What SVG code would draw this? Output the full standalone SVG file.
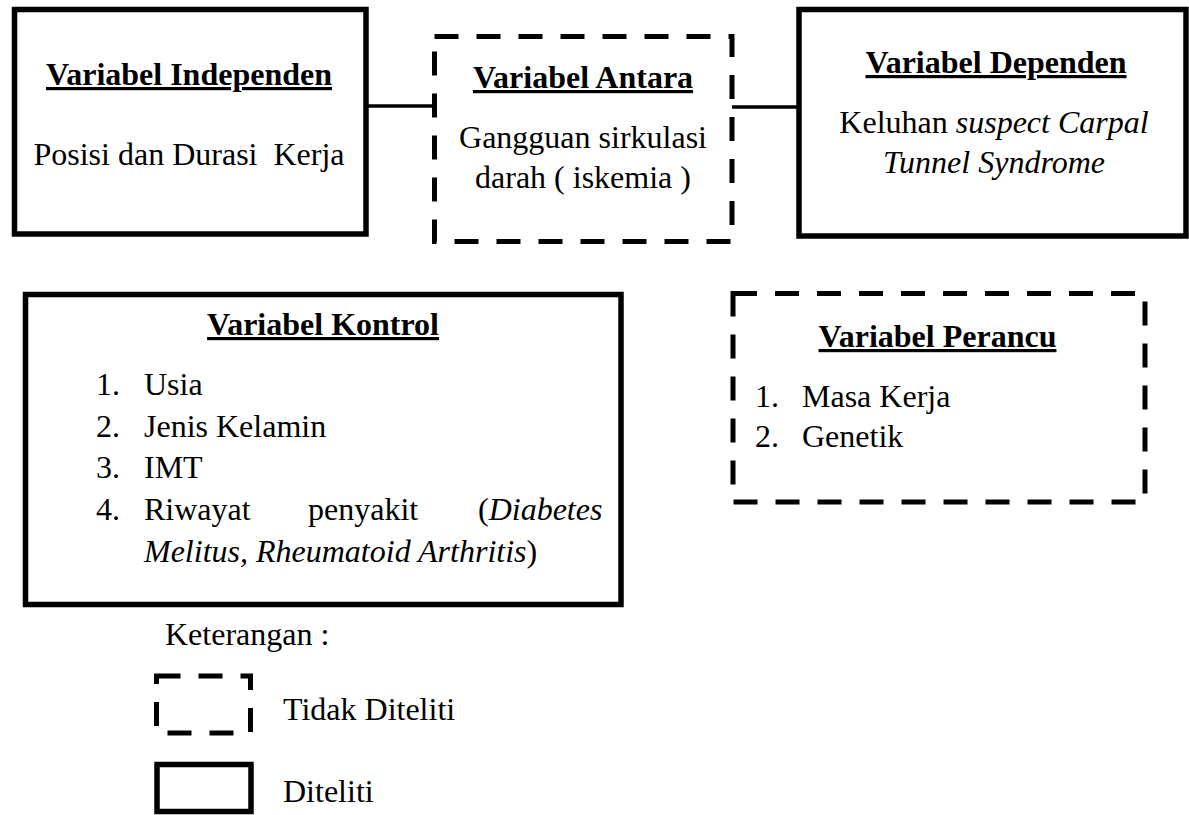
<svg xmlns="http://www.w3.org/2000/svg" width="1189" height="815" viewBox="0 0 1189 815">
<style>
.solid{fill:none;stroke:#000;stroke-width:5.5}
.dash{fill:none;stroke:#000;stroke-width:5;stroke-dasharray:24 18}
.conn{stroke:#000;stroke-width:3.5;fill:none}
text{font-family:"Liberation Serif","Times New Roman",serif;font-size:32px;fill:#000}
.t{font-weight:bold;text-decoration:underline;text-decoration-thickness:3.5px;text-underline-offset:3px;text-anchor:middle}
.c{text-anchor:middle}
.i{font-style:italic}
</style>
<rect width="1189" height="815" fill="#fff"/>
<g id="connectors">
<line class="conn" x1="366" y1="106" x2="434" y2="106"/>
<line class="conn" x1="732" y1="107" x2="799" y2="107"/>
</g>
<g id="independen">
<rect class="solid" x="14.5" y="9.5" width="351.5" height="224.5"/>
<text class="t" x="189" y="85">Variabel Independen</text>
<text class="c" x="189" y="165" xml:space="preserve">Posisi dan Durasi  Kerja</text>
</g>
<g id="antara">
<rect class="dash" x="434.5" y="36.5" width="297.5" height="205"/>
<text class="t" x="583" y="88">Variabel Antara</text>
<text class="c" x="583" y="148">Gangguan sirkulasi</text>
<text class="c" x="583" y="188">darah ( iskemia )</text>
</g>
<g id="dependen">
<rect class="solid" x="799" y="9.5" width="387" height="226.5"/>
<text class="t" x="996" y="73">Variabel Dependen</text>
<text class="c" x="994" y="133">Keluhan <tspan class="i">suspect Carpal</tspan></text>
<text class="c i" x="994" y="173">Tunnel Syndrome</text>
</g>
<g id="kontrol">
<rect class="solid" x="25.5" y="294.5" width="595.5" height="310"/>
<text class="t" x="323" y="335">Variabel Kontrol</text>
<text x="96" y="395">1.</text><text x="144" y="395">Usia</text>
<text x="96" y="437">2.</text><text x="144" y="437">Jenis Kelamin</text>
<text x="96" y="478">3.</text><text x="144" y="478">IMT</text>
<text x="96" y="520">4.</text><text x="144" y="520">Riwayat</text>
<text x="308" y="520">penyakit</text>
<text x="478" y="520">(<tspan class="i">Diabetes</tspan></text>
<text x="144" y="562"><tspan class="i">Melitus, Rheumatoid Arthritis</tspan>)</text>
</g>
<g id="perancu">
<rect class="dash" x="733" y="293.5" width="412" height="208.5"/>
<text class="t" x="937.5" y="347">Variabel Perancu</text>
<text x="755" y="407">1.</text><text x="802" y="407">Masa Kerja</text>
<text x="755" y="447">2.</text><text x="802" y="447">Genetik</text>
</g>
<g id="legend">
<text x="165" y="645">Keterangan :</text>
<rect class="dash" x="156.5" y="676" width="94" height="57"/>
<text x="283" y="720">Tidak Diteliti</text>
<rect class="solid" x="157" y="764.5" width="94" height="47"/>
<text x="283" y="802">Diteliti</text>
</g>
</svg>
